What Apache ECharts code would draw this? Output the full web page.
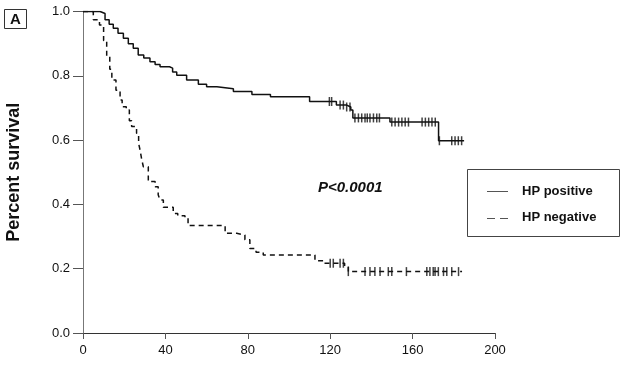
<!DOCTYPE html>
<html><head><meta charset="utf-8">
<script src="https://cdn.jsdelivr.net/npm/echarts@6/dist/echarts.min.js"></script>
<style>html,body{margin:0;padding:0;background:#fff}#c{width:622px;height:380px}</style>
</head><body><div id="c"></div>
<script>
var xTicks = [0, 40, 80, 120, 160, 200];
var yTicks = [0.0, 0.2, 0.4, 0.6, 0.8, 1.0];
var posTimes = [0,6.6,8.3,10.7,12.7,14.7,17,19.6,22,24.4,26.8,29.5,32.5,35,37.4,42,43.5,45.5,50.3,56,60,65,73,82,91,110,118,123,128,130,131,149,172.6,185];
var posSurv  = [1.0,1.0,0.994,0.974,0.96,0.948,0.932,0.917,0.9,0.886,0.865,0.855,0.844,0.835,0.828,0.824,0.812,0.802,0.787,0.774,0.766,0.76,0.751,0.742,0.735,0.72,0.72,0.709,0.703,0.694,0.669,0.656,0.598,0.598];
var negTimes = [0,3,5,8,10,11.5,13,14,16,18,19,21,22.5,23.6,26,27,27.7,28.5,29.3,31.7,35,36.5,37.4,39,43.8,46,49.5,51,69,74.6,78.6,81,84,87.5,112.6,116.7,127,128.8,184];
var negSurv  = [1.0,1.0,0.974,0.958,0.91,0.86,0.82,0.787,0.755,0.725,0.704,0.694,0.66,0.642,0.621,0.59,0.569,0.54,0.517,0.471,0.455,0.43,0.414,0.391,0.372,0.365,0.357,0.334,0.31,0.305,0.29,0.263,0.251,0.243,0.225,0.217,0.208,0.191,0.191];
var posCensorTimes = [119.6,120.7,124.8,126.4,128,129.6,132,133.7,135.3,136.9,138,139.3,141,142.6,143.9,149.9,151.5,153.2,154.8,156.4,158,164.6,166.2,167.8,169.4,171,173,179,180.6,182.2,183.8];
var posCensorSurv  = [0.72,0.72,0.709,0.709,0.703,0.703,0.669,0.669,0.669,0.669,0.669,0.669,0.669,0.669,0.669,0.656,0.656,0.656,0.656,0.656,0.656,0.656,0.656,0.656,0.656,0.656,0.598,0.598,0.598,0.598,0.598];
var negCensorTimes = [120,121.5,124.8,126.4,128.8,136.9,139.3,141.7,144.2,148.2,149.9,157,166.9,168.4,170,170.9,172.5,175,176.6,179,182.3];
var negCensorSurv  = [0.217,0.217,0.217,0.217,0.191,0.191,0.191,0.191,0.191,0.191,0.191,0.191,0.191,0.191,0.191,0.191,0.191,0.191,0.191,0.191,0.191];
var seriesNames = ['HP positive', 'HP negative'];
var pValueText = 'P<0.0001';
var yAxisTitle = 'Percent survival';
var panelLabel = 'A';

function pairs(a, b) { return a.map(function (t, i) { return [t, b[i]]; }); }

var chart = echarts.init(document.getElementById('c'), null, {renderer: 'canvas'});
var font = 'Liberation Sans, Arial, sans-serif';
chart.setOption({
  animation: false,
  grid: {left: 83, top: 11.5, right: 127, bottom: 47, containLabel: false, outerBoundsMode: 'none'},
  xAxis: {
    type: 'value', min: xTicks[0], max: xTicks[xTicks.length - 1], interval: 40,
    axisLine: {lineStyle: {color: '#333', width: 1}},
    axisTick: {show: true, inside: false, length: 6, lineStyle: {color: '#555'}},
    axisLabel: {inside: false, color: '#111', fontSize: 13, fontFamily: font, margin: 11},
    splitLine: {show: false}
  },
  yAxis: {
    type: 'value', min: yTicks[0], max: yTicks[yTicks.length - 1], interval: 0.2,
    name: yAxisTitle, nameLocation: 'middle', nameGap: 60,
    nameTextStyle: {fontSize: 18, fontWeight: 'bold', fontFamily: font, color: '#111'},
    axisLine: {show: true, lineStyle: {color: '#777', width: 1}},
    axisTick: {show: true, inside: false, length: 10, lineStyle: {color: '#555'}},
    axisLabel: {inside: false, color: '#111', fontSize: 13, fontFamily: font, margin: 13,
      formatter: function (v) { return v.toFixed(1); }},
    splitLine: {show: false}
  },
  series: [
    {name: seriesNames[0], type: 'line', step: 'end', data: pairs(posTimes, posSurv),
      showSymbol: false, lineStyle: {color: '#111', width: 1.5}, z: 3},
    {name: seriesNames[1], type: 'line', step: 'end', data: pairs(negTimes, negSurv),
      showSymbol: false, lineStyle: {color: '#111', width: 1.5, type: [5, 4]}, z: 3},
    {type: 'scatter', data: pairs(posCensorTimes, posCensorSurv), symbol: 'rect',
      symbolSize: [1.5, 9], itemStyle: {color: '#111'}, z: 4},
    {type: 'scatter', data: pairs(negCensorTimes, negCensorSurv), symbol: 'rect',
      symbolSize: [1.5, 9], itemStyle: {color: '#111'}, z: 4}
  ],
  graphic: [
    {type: 'rect', shape: {x: 4.5, y: 9.5, width: 22, height: 19}, style: {fill: '#fff', stroke: '#333', lineWidth: 1}},
    {type: 'text', x: 15.5, y: 19.5, style: {text: panelLabel, font: 'bold 15px ' + font, fill: '#111', textAlign: 'center', textVerticalAlign: 'middle'}},
    {type: 'text', x: 318, y: 188, style: {text: pValueText, font: 'italic bold 15px ' + font, fill: '#111', textAlign: 'left', textVerticalAlign: 'middle'}},
    {type: 'rect', shape: {x: 467.5, y: 169.5, width: 152, height: 67}, style: {fill: '#fff', stroke: '#444', lineWidth: 1}},
    {type: 'line', shape: {x1: 487, y1: 191.5, x2: 508, y2: 191.5}, style: {stroke: '#555', lineWidth: 1}},
    {type: 'line', shape: {x1: 487, y1: 218.5, x2: 508, y2: 218.5}, style: {stroke: '#555', lineWidth: 1, lineDash: [8, 5]}},
    {type: 'text', x: 522, y: 191, style: {text: seriesNames[0], font: 'bold 13px ' + font, fill: '#111', textAlign: 'left', textVerticalAlign: 'middle'}},
    {type: 'text', x: 522, y: 217, style: {text: seriesNames[1], font: 'bold 13px ' + font, fill: '#111', textAlign: 'left', textVerticalAlign: 'middle'}}
  ]
});
</script></body></html>
